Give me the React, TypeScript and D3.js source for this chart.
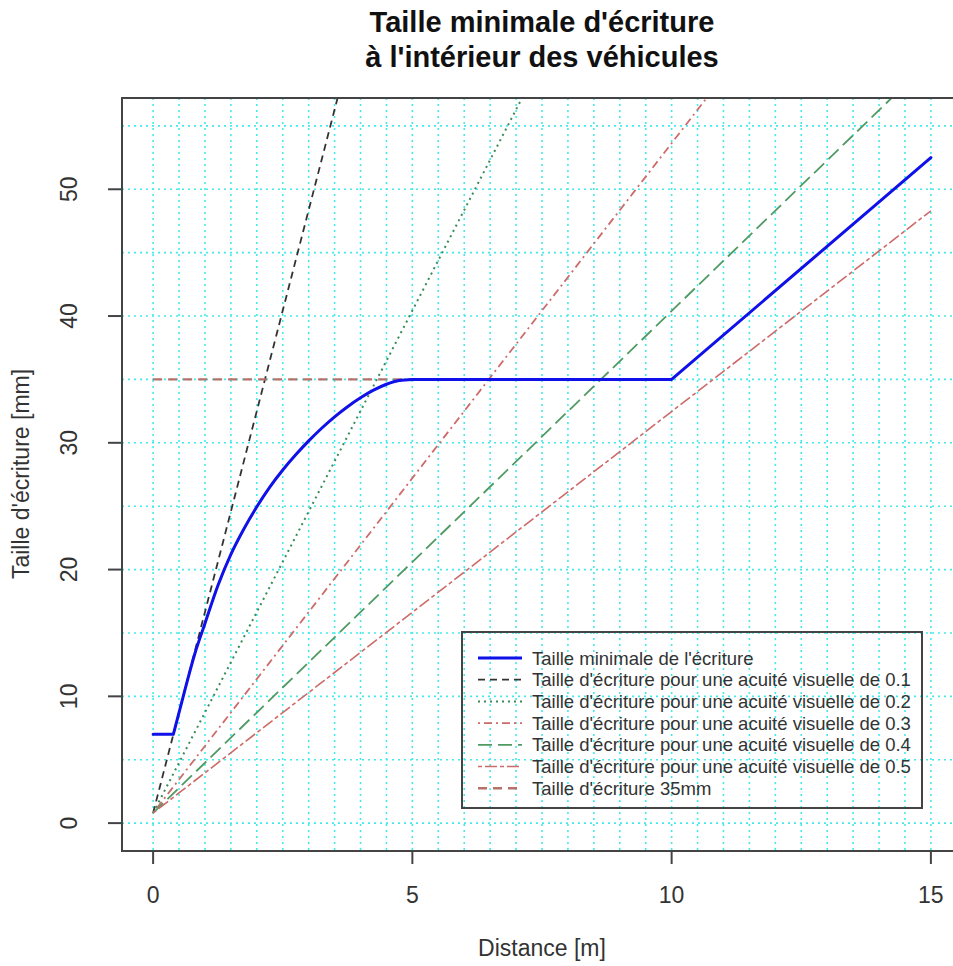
import React from "react";
import * as d3 from "d3";

const W = 953;
const H = 966;

// ---- data ----
const xTicks = [0, 5, 10, 15];
const yTicks = [0, 10, 20, 30, 40, 50];
const xGridValues = d3.range(0, 15.01, 0.5);
const yGridValues = d3.range(0, 55.01, 5);

// minimal size: flat start, curved rise, plateau, linear end
const minFlatDistance = [0, 0.39];
const minFlatSize = [7, 7];
const minCurveDistance = [0.39, 0.6, 0.8, 1.0, 1.25, 1.5, 1.75, 2.0, 2.25, 2.5, 2.75, 3.0, 3.25, 3.5, 3.75, 4.0, 4.25, 4.5, 4.75, 5.0];
const minCurveSize = [7, 10.3, 13.3, 15.75, 18.75, 21.2, 23.2, 24.95, 26.5, 27.85, 29.05, 30.15, 31.15, 32.05, 32.85, 33.55, 34.15, 34.62, 34.92, 35.0];
const minTailDistance = [5.0, 10, 15];
const minTailSize = [35.0, 35.0, 52.5];

const acuityDistance = [0, 15];
const acuity01 = [0.8, 238.6];
const acuity02 = [0.8, 119.7];
const acuity03 = [0.8, 80.05];
const acuity04 = [0.8, 60.2];
const acuity05 = [0.8, 48.3];

const ref35Distance = [0, 5];
const ref35Size = [35, 35];

const legendLabels = [
  "Taille minimale de l'écriture",
  "Taille d'écriture pour une acuité visuelle de 0.1",
  "Taille d'écriture pour une acuité visuelle de 0.2",
  "Taille d'écriture pour une acuité visuelle de 0.3",
  "Taille d'écriture pour une acuité visuelle de 0.4",
  "Taille d'écriture pour une acuité visuelle de 0.5",
  "Taille d'écriture 35mm",
];

const styles = [
  { color: "#1010e8", dash: "", width: 3 },
  { color: "#333333", dash: "7,5", width: 1.8 },
  { color: "#3a8a5a", dash: "2,4", width: 2 },
  { color: "#cd6a6a", dash: "2,4,8,4", width: 1.8 },
  { color: "#4f9a63", dash: "14,6", width: 1.8 },
  { color: "#cd6a6a", dash: "4,3,12,3", width: 1.6 },
  { color: "#b8706a", dash: "9,6", width: 2.4 },
];

export default function App() {
  const left = 122, right = 962, top = 98, bottom = 851;
  const x = d3.scaleLinear().domain([-0.6, 15.6]).range([left, right]);
  const y = d3.scaleLinear().domain([-2.2, 57.2]).range([bottom, top]);

  const mk = (xs: number[], ys: number[], curve: any = d3.curveLinear) =>
    d3.line<number>().x((_, i) => x(xs[i])).y((v) => y(v)).curve(curve)(ys) || "";

  const series = [
    { path: mk(acuityDistance, acuity01), s: styles[1] },
    { path: mk(acuityDistance, acuity02), s: styles[2] },
    { path: mk(acuityDistance, acuity03), s: styles[3] },
    { path: mk(acuityDistance, acuity04), s: styles[4] },
    { path: mk(acuityDistance, acuity05), s: styles[5] },
    { path: mk(ref35Distance, ref35Size), s: styles[6] },
  ];
  const bluePath =
    mk(minFlatDistance, minFlatSize) +
    mk(minCurveDistance, minCurveSize, d3.curveMonotoneX) +
    mk(minTailDistance, minTailSize);

  const font = "Liberation Sans, Arial, sans-serif";
  const lgX = 462, lgY = 632, lgW = 460, lgH = 176;
  const rowY0 = 658, rowStep = 21.7;
  const gridColor = "#44eaea";

  return (
    <svg
      width={W}
      height={H}
      style={{ position: "absolute", left: 0, top: 0, background: "#fff" }}
      fontFamily={font}
    >
      <defs>
        <clipPath id="plotClip">
          <rect x={left} y={top} width={right - left} height={bottom - top} />
        </clipPath>
      </defs>
      <rect x={0} y={0} width={W} height={H} fill="#fff" />

      {/* title */}
      <text x={542} y={32} textAnchor="middle" fontSize={29} fontWeight="bold" fill="#111">
        Taille minimale d'écriture
      </text>
      <text x={542} y={67} textAnchor="middle" fontSize={29} fontWeight="bold" fill="#111">
        à l'intérieur des véhicules
      </text>

      {/* grid */}
      <g clipPath="url(#plotClip)">
        {xGridValues.map((v) => (
          <line key={"gx" + v} x1={x(v)} x2={x(v)} y1={top} y2={bottom}
            stroke={gridColor} strokeWidth={1.6} strokeDasharray="2,4" />
        ))}
        {yGridValues.map((v) => (
          <line key={"gy" + v} x1={left} x2={right} y1={y(v)} y2={y(v)}
            stroke={gridColor} strokeWidth={1.6} strokeDasharray="2,4" />
        ))}
      </g>

      {/* series */}
      <g clipPath="url(#plotClip)" fill="none">
        {series.map((d, i) => (
          <path key={i} d={d.path} stroke={d.s.color} strokeWidth={d.s.width}
            strokeDasharray={d.s.dash || undefined} strokeLinejoin="round" />
        ))}
        <path d={bluePath} stroke={styles[0].color} strokeWidth={styles[0].width}
          strokeLinejoin="round" strokeLinecap="round" />
      </g>

      {/* box */}
      <rect x={left} y={top} width={right - left} height={bottom - top}
        fill="none" stroke="#444" strokeWidth={2} />

      {/* x axis */}
      {xTicks.map((v) => (
        <g key={"xt" + v}>
          <line x1={x(v)} x2={x(v)} y1={bottom} y2={bottom + 13} stroke="#444" strokeWidth={2} />
          <text x={x(v)} y={903} textAnchor="middle" fontSize={23} fill="#333">{v}</text>
        </g>
      ))}
      {/* y axis */}
      {yTicks.map((v) => (
        <g key={"yt" + v}>
          <line x1={left - 14} x2={left} y1={y(v)} y2={y(v)} stroke="#444" strokeWidth={2} />
          <text transform={`translate(${77},${y(v)}) rotate(-90)`} textAnchor="middle"
            fontSize={23} fill="#333">{v}</text>
        </g>
      ))}

      <text x={542} y={956} textAnchor="middle" fontSize={23} fill="#333">Distance [m]</text>
      <text transform={`translate(29,474) rotate(-90)`} textAnchor="middle" fontSize={23} fill="#333">
        Taille d'écriture [mm]
      </text>

      {/* legend */}
      <rect x={lgX} y={lgY} width={lgW} height={lgH} fill="none" stroke="#444" strokeWidth={2} />
      {legendLabels.map((lab, i) => {
        const ry = rowY0 + i * rowStep;
        const s = styles[i];
        return (
          <g key={"lg" + i}>
            <line x1={478} x2={522} y1={ry} y2={ry} stroke={s.color} strokeWidth={s.width}
              strokeDasharray={s.dash || undefined} />
            <text x={532} y={ry + 6.5} fontSize={18.5} fill="#333">{lab}</text>
          </g>
        );
      })}
    </svg>
  );
}
